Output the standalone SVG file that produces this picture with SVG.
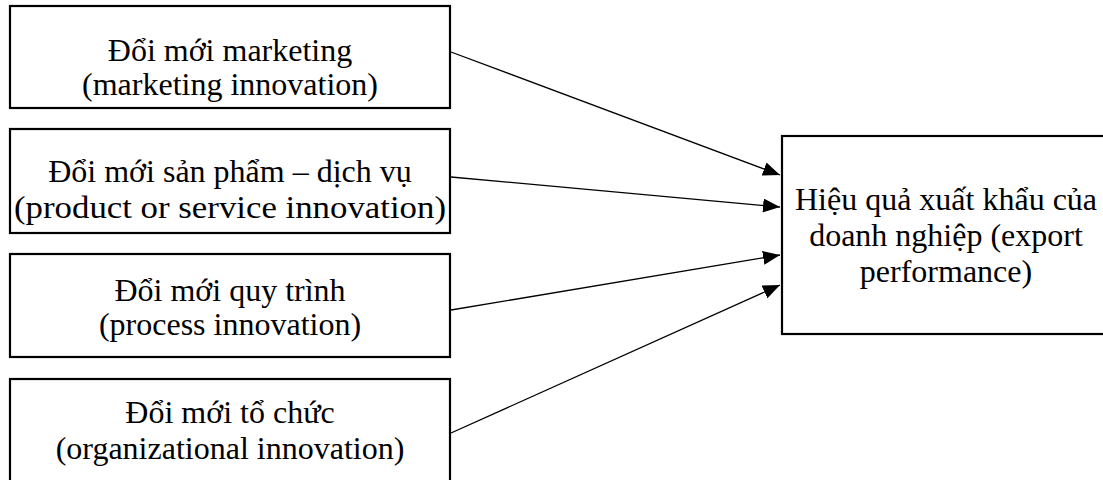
<svg xmlns="http://www.w3.org/2000/svg" width="1103" height="480" viewBox="0 0 1103 480">
<defs>
<style>
.box{fill:#fff;stroke:#000;stroke-width:2.2}
.t{font-family:"Liberation Serif","Times New Roman",serif;font-size:32px;fill:#000;text-anchor:middle}
.c{stroke:#000;stroke-width:1.3;fill:none}
</style>
<marker id="ah" markerUnits="userSpaceOnUse" markerWidth="18" markerHeight="14" refX="17" refY="7" orient="auto">
<path d="M0,0 L17,7 L0,14 Z" fill="#000"/>
</marker>
</defs>
<rect width="1103" height="480" fill="#fff"/>
<g id="n1">
<rect class="box" x="10" y="6" width="440" height="102"/>
<text class="t" x="230" y="61">Đổi mới marketing</text>
<text class="t" x="230" y="95">(marketing innovation)</text>
</g>
<g id="n2">
<rect class="box" x="10" y="129" width="440" height="104"/>
<text class="t" x="230" y="182">Đổi mới sản phẩm – dịch vụ</text>
<text class="t" x="230" y="218" textLength="432" lengthAdjust="spacingAndGlyphs">(product or service innovation)</text>
</g>
<g id="n3">
<rect class="box" x="10" y="254" width="440" height="103"/>
<text class="t" x="230" y="301">Đổi mới quy trình</text>
<text class="t" x="230" y="335">(process innovation)</text>
</g>
<g id="n4">
<rect class="box" x="10" y="379" width="440" height="104"/>
<text class="t" x="230" y="423">Đổi mới tổ chức</text>
<text class="t" x="230" y="459">(organizational innovation)</text>
</g>
<g id="n5">
<rect class="box" x="782" y="136" width="330" height="198"/>
<text class="t" x="946" y="210">Hiệu quả xuất khẩu của</text>
<text class="t" x="946" y="246">doanh nghiệp (export</text>
<text class="t" x="946" y="282">performance)</text>
</g>
<g id="connectors">
<line class="c" x1="451" y1="52" x2="780" y2="175" marker-end="url(#ah)"/>
<line class="c" x1="451" y1="177" x2="780" y2="207" marker-end="url(#ah)"/>
<line class="c" x1="451" y1="310" x2="780" y2="255" marker-end="url(#ah)"/>
<line class="c" x1="451" y1="433" x2="780" y2="285" marker-end="url(#ah)"/>
</g>
</svg>
